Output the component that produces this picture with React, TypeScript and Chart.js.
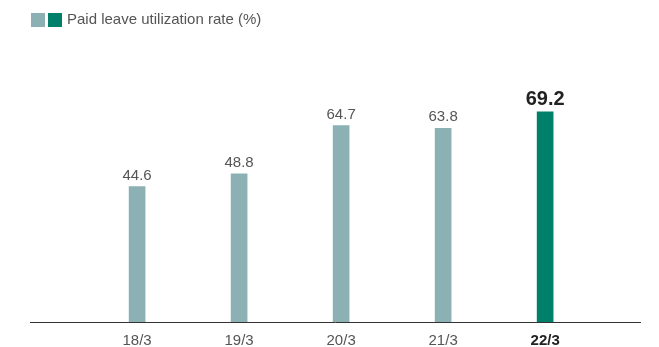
import React, { useEffect, useRef } from "react";
import { Chart, registerables } from "chart.js";

Chart.register(...registerables);

const categories = ["18/3", "19/3", "20/3", "21/3", "22/3"];
const values = [44.6, 48.8, 64.7, 63.8, 69.2];
const legendLabel = "Paid leave utilization rate (%)";

const LIGHT = "#8cb1b5";
const DARK = "#007f6a";
const FONT = "'Liberation Sans', Arial, sans-serif";

export default function App() {
  const ref = useRef<HTMLCanvasElement | null>(null);
  useEffect(() => {
    const canvas = ref.current;
    if (!canvas) return;
    const last = categories.length - 1;
    const labelPlugin = {
      id: "valueLabels",
      afterDatasetsDraw(chart: any) {
        const ctx = chart.ctx;
        const meta = chart.getDatasetMeta(0);
        ctx.save();
        ctx.textAlign = "center";
        ctx.textBaseline = "alphabetic";
        meta.data.forEach((el: any, i: number) => {
          const isLast = i === last;
          ctx.font = isLast ? `bold 20px ${FONT}` : `15px ${FONT}`;
          ctx.fillStyle = isLast ? "#222" : "#555";
          ctx.fillText(values[i].toFixed(1), el.x, el.y - 7);
        });
        // legend
        ctx.fillStyle = LIGHT;
        ctx.fillRect(31, 13, 14, 14);
        ctx.fillStyle = DARK;
        ctx.fillRect(48, 13, 14, 14);
        ctx.fillStyle = "#555";
        ctx.font = `15px ${FONT}`;
        ctx.textAlign = "left";
        ctx.textBaseline = "middle";
        ctx.fillText(legendLabel, 67, 20);
        ctx.restore();
      },
    };
    const chart = new Chart(canvas, {
      type: "bar",
      data: {
        datasets: [
          {
            data: values.map((v, i) => ({ x: i, y: v })),
            backgroundColor: values.map((_, i) => (i === last ? DARK : LIGHT)),
            barThickness: 16,
          },
        ],
      },
      options: {
        responsive: false,
        animation: false,
        layout: { padding: { left: 30, right: 19, top: 60, bottom: 0 } },
        plugins: { legend: { display: false }, tooltip: { enabled: false } },
        scales: {
          x: {
            type: "linear",
            offset: false,
            min: -1.05,
            max: 4.93,
            grid: { display: false },
            border: { display: true, color: "#333", width: 1 },
            afterBuildTicks: (scale: any) => {
              scale.ticks = categories.map((_, i) => ({ value: i }));
            },
            afterFit: (scale: any) => {
              scale.height = 25;
            },
            ticks: {
              padding: 2,
              maxRotation: 0,
              autoSkip: false,
              callback: (v: any) => categories[v as number] ?? "",
              color: (c: any) => (c.index === last ? "#222" : "#555"),
              font: (c: any) => ({
                family: FONT,
                size: 15,
                weight: c.index === last ? "bold" : "normal",
              }),
            },
          },
          y: {
            display: false,
            min: 0,
            max: 86.3,
          },
        },
      },
      plugins: [labelPlugin],
    });
    return () => chart.destroy();
  }, []);
  return (
    <div style={{ position: "absolute", left: 0, top: 0, width: 659, height: 347, background: "#fff" }}>
      <canvas ref={ref} width={659} height={347} style={{ display: "block" }} />
    </div>
  );
}
